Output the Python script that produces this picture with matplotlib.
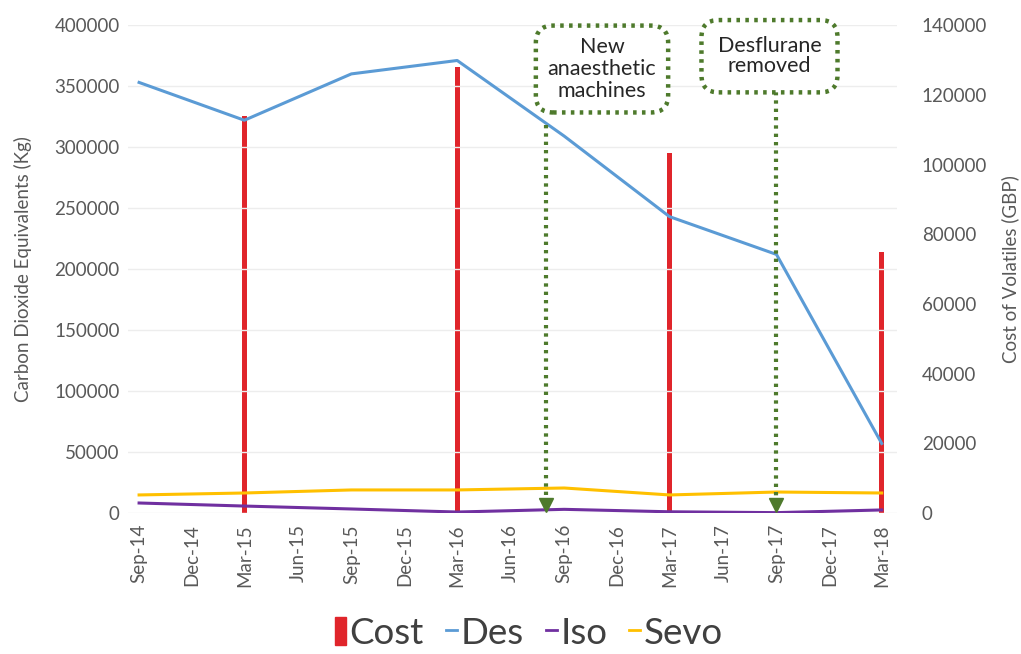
import pandas as pd
import matplotlib.pyplot as plt
import matplotlib.dates as mdates
from matplotlib.lines import Line2D
from matplotlib.patches import Patch

plt.rcParams['font.family'] = ['Lato', 'DejaVu Sans']

# half-yearly readings
dates = ["Sep-14", "Mar-15", "Sep-15", "Mar-16", "Sep-16", "Mar-17", "Sep-17", "Mar-18"]
des = [353000, 322000, 360000, 371000, 309000, 243000, 212000, 57000]
iso = [8200, 5700, 3300, 800, 3000, 1000, 300, 2500]
sevo = [14800, 16400, 18900, 18900, 20500, 14800, 17200, 16400]

cost_dates = ["Mar-15", "Mar-16", "Mar-17", "Mar-18"]
cost = [114000, 128000, 103300, 74900]

tick_labels = ["Sep-14", "Dec-14", "Mar-15", "Jun-15", "Sep-15", "Dec-15", "Mar-16",
               "Jun-16", "Sep-16", "Dec-16", "Mar-17", "Jun-17", "Sep-17", "Dec-17", "Mar-18"]

events = ["New\nanaesthetic\nmachines", "Desflurane\nremoved"]
event_dates = ["2016-07-31", "2017-09-01"]

x = pd.to_datetime(dates, format="%b-%y")
xc = pd.to_datetime(cost_dates, format="%b-%y")
xt = pd.to_datetime(tick_labels, format="%b-%y")
xe = pd.to_datetime(event_dates)

grey = "#595959"
green = "#4E7A2C"

fig = plt.figure(figsize=(10.21, 6.54), dpi=100)
ax = fig.add_axes([0.1254, 0.2156, 0.753, 0.746])
ax2 = ax.twinx()

ax2.bar(xc, cost, width=8, color="#E0252B", zorder=2)
ax.plot(x, des, color="#5B9BD5", lw=2.2, zorder=3)
ax.plot(x, iso, color="#7030A0", lw=2.2, zorder=3)
ax.plot(x, sevo, color="#FFC000", lw=2.2, zorder=3)

ax.set_zorder(ax2.get_zorder() + 1)
ax.patch.set_visible(False)

ax.set_ylim(0, 400000)
ax2.set_ylim(0, 140000)
ax.set_yticks(range(0, 400001, 50000))
ax2.set_yticks(range(0, 140001, 20000))
ax.set_xlim(x[0] - pd.Timedelta(days=19), x[-1] + pd.Timedelta(days=26))
ax.set_xticks(xt)
ax.xaxis.set_major_formatter(mdates.DateFormatter("%b-%y"))
for lab in ax.get_xticklabels():
    lab.set_rotation(90)

ax.grid(axis="y", color="#EDEDED", lw=1)
for a in (ax, ax2):
    for s in a.spines.values():
        s.set_visible(False)
    a.tick_params(length=0, labelsize=13.5, colors=grey)
ax.tick_params(axis="y", pad=6)
ax.tick_params(axis="x", pad=8)
ax2.tick_params(axis="y", pad=18)

ax.set_ylabel("Carbon Dioxide Equivalents (Kg)", fontsize=13.5, color=grey, labelpad=16)
ax2.set_ylabel("Cost of Volatiles (GBP)", fontsize=13.5, color=grey, labelpad=10)

# annotation boxes and dotted arrows
box_kw = dict(boxstyle="round,pad=0.55,rounding_size=0.8", fc="white", ec=green, lw=3.2, ls=(0, (0.8, 1.2)))
ax.text(pd.Timestamp("2016-11-05"), 364000, events[0], ha="center", va="center", fontsize=15.5,
        color="#262626", bbox=box_kw, linespacing=1.1, zorder=5, clip_on=False)
box_kw2 = dict(box_kw, boxstyle="round,pad=0.75,rounding_size=0.8")
ax.text(pd.Timestamp("2017-08-20"), 374500, events[1], ha="center", va="center", fontsize=15.5,
        color="#262626", bbox=box_kw2, linespacing=1.0, zorder=5, clip_on=False)

for d, ytop in zip(xe, [318000, 345000]):
    ax.plot([d, d], [ytop, 9000], color=green, lw=3, ls=(0, (0.8, 1.2)), zorder=4)
    ax.plot(d, 6500, marker="v", color=green, ms=10, zorder=4)

handles = [Patch(color="#E0252B"),
           Line2D([], [], color="#5B9BD5", lw=2),
           Line2D([], [], color="#7030A0", lw=2),
           Line2D([], [], color="#FFC000", lw=2)]
fig.legend(handles, ["Cost", "Des", "Iso", "Sevo"], loc="center", bbox_to_anchor=(0.518, 0.032),
           ncol=4, frameon=False, fontsize=26.5, handlelength=0.3, handleheight=0.8,
           handletextpad=0.1, columnspacing=0.6, labelcolor="#404040")

fig.savefig("out.png", dpi=100)
